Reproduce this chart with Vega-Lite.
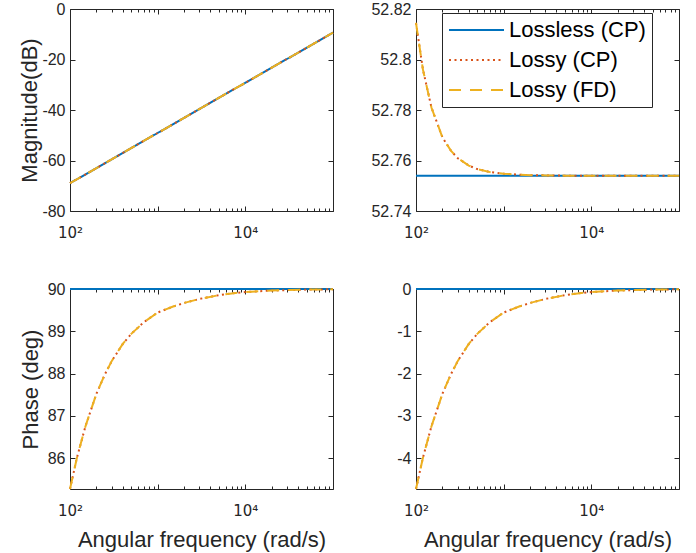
{
  "$schema": "https://vega.github.io/schema/vega-lite/v6.json",
  "background": "white",
  "padding": {"left": 18, "top": 1, "right": 10, "bottom": 2},
  "bounds": "flush",
  "columns": 2,
  "spacing": {"row": 78, "column": 83},
  "datasets": {
    "d": [
      {"p": "A", "s": "Lossless (CP)", "w": 100, "v": -69.0},
      {"p": "A", "s": "Lossless (CP)", "w": 1000, "v": -49.1},
      {"p": "A", "s": "Lossless (CP)", "w": 10000, "v": -29.2},
      {"p": "A", "s": "Lossless (CP)", "w": 100000, "v": -9.4},
      {"p": "A", "s": "Lossy (CP)", "w": 100, "v": -69.0},
      {"p": "A", "s": "Lossy (CP)", "w": 1000, "v": -49.1},
      {"p": "A", "s": "Lossy (CP)", "w": 10000, "v": -29.2},
      {"p": "A", "s": "Lossy (CP)", "w": 100000, "v": -9.4},
      {"p": "A", "s": "Lossy (FD)", "w": 100, "v": -69.0},
      {"p": "A", "s": "Lossy (FD)", "w": 1000, "v": -49.1},
      {"p": "A", "s": "Lossy (FD)", "w": 10000, "v": -29.2},
      {"p": "A", "s": "Lossy (FD)", "w": 100000, "v": -9.4},

      {"p": "B", "s": "Lossless (CP)", "w": 100, "v": 52.754},
      {"p": "B", "s": "Lossless (CP)", "w": 100000, "v": 52.754},
      {"p": "B", "s": "Lossy (CP)", "w": 100, "v": 52.8145},
      {"p": "B", "s": "Lossy (CP)", "w": 120, "v": 52.796},
      {"p": "B", "s": "Lossy (CP)", "w": 150, "v": 52.781},
      {"p": "B", "s": "Lossy (CP)", "w": 200, "v": 52.7692},
      {"p": "B", "s": "Lossy (CP)", "w": 250, "v": 52.7639},
      {"p": "B", "s": "Lossy (CP)", "w": 300, "v": 52.7609},
      {"p": "B", "s": "Lossy (CP)", "w": 400, "v": 52.758},
      {"p": "B", "s": "Lossy (CP)", "w": 500, "v": 52.7566},
      {"p": "B", "s": "Lossy (CP)", "w": 700, "v": 52.7554},
      {"p": "B", "s": "Lossy (CP)", "w": 1000, "v": 52.7548},
      {"p": "B", "s": "Lossy (CP)", "w": 1500, "v": 52.7544},
      {"p": "B", "s": "Lossy (CP)", "w": 2000, "v": 52.7542},
      {"p": "B", "s": "Lossy (CP)", "w": 3000, "v": 52.7541},
      {"p": "B", "s": "Lossy (CP)", "w": 5000, "v": 52.754},
      {"p": "B", "s": "Lossy (CP)", "w": 100000, "v": 52.754},
      {"p": "B", "s": "Lossy (FD)", "w": 100, "v": 52.8145},
      {"p": "B", "s": "Lossy (FD)", "w": 120, "v": 52.796},
      {"p": "B", "s": "Lossy (FD)", "w": 150, "v": 52.781},
      {"p": "B", "s": "Lossy (FD)", "w": 200, "v": 52.7692},
      {"p": "B", "s": "Lossy (FD)", "w": 250, "v": 52.7639},
      {"p": "B", "s": "Lossy (FD)", "w": 300, "v": 52.7609},
      {"p": "B", "s": "Lossy (FD)", "w": 400, "v": 52.758},
      {"p": "B", "s": "Lossy (FD)", "w": 500, "v": 52.7566},
      {"p": "B", "s": "Lossy (FD)", "w": 700, "v": 52.7554},
      {"p": "B", "s": "Lossy (FD)", "w": 1000, "v": 52.7548},
      {"p": "B", "s": "Lossy (FD)", "w": 1500, "v": 52.7544},
      {"p": "B", "s": "Lossy (FD)", "w": 2000, "v": 52.7542},
      {"p": "B", "s": "Lossy (FD)", "w": 3000, "v": 52.7541},
      {"p": "B", "s": "Lossy (FD)", "w": 5000, "v": 52.754},
      {"p": "B", "s": "Lossy (FD)", "w": 100000, "v": 52.754},

      {"p": "C", "s": "Lossless (CP)", "w": 100, "v": 90},
      {"p": "C", "s": "Lossless (CP)", "w": 100000, "v": 90},
      {"p": "C", "s": "Lossy (CP)", "w": 100, "v": 85.27},
      {"p": "C", "s": "Lossy (CP)", "w": 120, "v": 86.01},
      {"p": "C", "s": "Lossy (CP)", "w": 150, "v": 86.75},
      {"p": "C", "s": "Lossy (CP)", "w": 200, "v": 87.52},
      {"p": "C", "s": "Lossy (CP)", "w": 250, "v": 87.98},
      {"p": "C", "s": "Lossy (CP)", "w": 300, "v": 88.3},
      {"p": "C", "s": "Lossy (CP)", "w": 400, "v": 88.7},
      {"p": "C", "s": "Lossy (CP)", "w": 500, "v": 88.94},
      {"p": "C", "s": "Lossy (CP)", "w": 700, "v": 89.22},
      {"p": "C", "s": "Lossy (CP)", "w": 1000, "v": 89.444},
      {"p": "C", "s": "Lossy (CP)", "w": 1500, "v": 89.585},
      {"p": "C", "s": "Lossy (CP)", "w": 2000, "v": 89.67},
      {"p": "C", "s": "Lossy (CP)", "w": 3000, "v": 89.765},
      {"p": "C", "s": "Lossy (CP)", "w": 5000, "v": 89.855},
      {"p": "C", "s": "Lossy (CP)", "w": 7000, "v": 89.895},
      {"p": "C", "s": "Lossy (CP)", "w": 10000, "v": 89.928},
      {"p": "C", "s": "Lossy (CP)", "w": 20000, "v": 89.964},
      {"p": "C", "s": "Lossy (CP)", "w": 50000, "v": 89.986},
      {"p": "C", "s": "Lossy (CP)", "w": 100000, "v": 89.993},
      {"p": "C", "s": "Lossy (FD)", "w": 100, "v": 85.27},
      {"p": "C", "s": "Lossy (FD)", "w": 120, "v": 86.01},
      {"p": "C", "s": "Lossy (FD)", "w": 150, "v": 86.75},
      {"p": "C", "s": "Lossy (FD)", "w": 200, "v": 87.52},
      {"p": "C", "s": "Lossy (FD)", "w": 250, "v": 87.98},
      {"p": "C", "s": "Lossy (FD)", "w": 300, "v": 88.3},
      {"p": "C", "s": "Lossy (FD)", "w": 400, "v": 88.7},
      {"p": "C", "s": "Lossy (FD)", "w": 500, "v": 88.94},
      {"p": "C", "s": "Lossy (FD)", "w": 700, "v": 89.22},
      {"p": "C", "s": "Lossy (FD)", "w": 1000, "v": 89.444},
      {"p": "C", "s": "Lossy (FD)", "w": 1500, "v": 89.585},
      {"p": "C", "s": "Lossy (FD)", "w": 2000, "v": 89.67},
      {"p": "C", "s": "Lossy (FD)", "w": 3000, "v": 89.765},
      {"p": "C", "s": "Lossy (FD)", "w": 5000, "v": 89.855},
      {"p": "C", "s": "Lossy (FD)", "w": 7000, "v": 89.895},
      {"p": "C", "s": "Lossy (FD)", "w": 10000, "v": 89.928},
      {"p": "C", "s": "Lossy (FD)", "w": 20000, "v": 89.964},
      {"p": "C", "s": "Lossy (FD)", "w": 50000, "v": 89.986},
      {"p": "C", "s": "Lossy (FD)", "w": 100000, "v": 89.993},

      {"p": "D", "s": "Lossless (CP)", "w": 100, "v": 0},
      {"p": "D", "s": "Lossless (CP)", "w": 100000, "v": 0},
      {"p": "D", "s": "Lossy (CP)", "w": 100, "v": -4.73},
      {"p": "D", "s": "Lossy (CP)", "w": 120, "v": -3.99},
      {"p": "D", "s": "Lossy (CP)", "w": 150, "v": -3.25},
      {"p": "D", "s": "Lossy (CP)", "w": 200, "v": -2.48},
      {"p": "D", "s": "Lossy (CP)", "w": 250, "v": -2.02},
      {"p": "D", "s": "Lossy (CP)", "w": 300, "v": -1.7},
      {"p": "D", "s": "Lossy (CP)", "w": 400, "v": -1.3},
      {"p": "D", "s": "Lossy (CP)", "w": 500, "v": -1.06},
      {"p": "D", "s": "Lossy (CP)", "w": 700, "v": -0.78},
      {"p": "D", "s": "Lossy (CP)", "w": 1000, "v": -0.556},
      {"p": "D", "s": "Lossy (CP)", "w": 1500, "v": -0.415},
      {"p": "D", "s": "Lossy (CP)", "w": 2000, "v": -0.33},
      {"p": "D", "s": "Lossy (CP)", "w": 3000, "v": -0.235},
      {"p": "D", "s": "Lossy (CP)", "w": 5000, "v": -0.145},
      {"p": "D", "s": "Lossy (CP)", "w": 7000, "v": -0.105},
      {"p": "D", "s": "Lossy (CP)", "w": 10000, "v": -0.072},
      {"p": "D", "s": "Lossy (CP)", "w": 20000, "v": -0.036},
      {"p": "D", "s": "Lossy (CP)", "w": 50000, "v": -0.014},
      {"p": "D", "s": "Lossy (CP)", "w": 100000, "v": -0.007},
      {"p": "D", "s": "Lossy (FD)", "w": 100, "v": -4.73},
      {"p": "D", "s": "Lossy (FD)", "w": 120, "v": -3.99},
      {"p": "D", "s": "Lossy (FD)", "w": 150, "v": -3.25},
      {"p": "D", "s": "Lossy (FD)", "w": 200, "v": -2.48},
      {"p": "D", "s": "Lossy (FD)", "w": 250, "v": -2.02},
      {"p": "D", "s": "Lossy (FD)", "w": 300, "v": -1.7},
      {"p": "D", "s": "Lossy (FD)", "w": 400, "v": -1.3},
      {"p": "D", "s": "Lossy (FD)", "w": 500, "v": -1.06},
      {"p": "D", "s": "Lossy (FD)", "w": 700, "v": -0.78},
      {"p": "D", "s": "Lossy (FD)", "w": 1000, "v": -0.556},
      {"p": "D", "s": "Lossy (FD)", "w": 1500, "v": -0.415},
      {"p": "D", "s": "Lossy (FD)", "w": 2000, "v": -0.33},
      {"p": "D", "s": "Lossy (FD)", "w": 3000, "v": -0.235},
      {"p": "D", "s": "Lossy (FD)", "w": 5000, "v": -0.145},
      {"p": "D", "s": "Lossy (FD)", "w": 7000, "v": -0.105},
      {"p": "D", "s": "Lossy (FD)", "w": 10000, "v": -0.072},
      {"p": "D", "s": "Lossy (FD)", "w": 20000, "v": -0.036},
      {"p": "D", "s": "Lossy (FD)", "w": 50000, "v": -0.014},
      {"p": "D", "s": "Lossy (FD)", "w": 100000, "v": -0.007}
    ]
  },
  "data": {"name": "d"},
  "resolve": {
    "scale": {"color": "independent", "strokeDash": "independent"},
    "legend": {"color": "independent", "strokeDash": "independent"}
  },
  "concat": [
    {
      "width": 263, "height": 202,
      "transform": [{"filter": "datum.p == 'A'"}],
      "layer": [
        {
          "mark": {"type": "line", "strokeWidth": 2},
          "encoding": {
            "x": {"field": "w", "type": "quantitative", "scale": {"type": "log", "domain": [100, 100000], "nice": false},
              "axis": {"orient": "bottom", "title": null, "values": [100,200,300,400,500,600,700,800,900,1000,2000,3000,4000,5000,6000,7000,8000,9000,10000,20000,30000,40000,50000,60000,70000,80000,90000,100000],
                "labelExpr": "datum.value == 100 ? '10²' : datum.value == 10000 ? '10⁴' : ''", "labelFlush": false, "labelOverlap": false,
                "labelFont": "DejaVu Sans", "labelFontSize": 15,
                "tickSize": {"condition": {"test": "datum.value == 100 || datum.value == 1000 || datum.value == 10000 || datum.value == 100000", "value": -5}, "value": -3},
                "labelPadding": 19}},
            "y": {"field": "v", "type": "quantitative", "scale": {"domain": [-80, 0], "nice": false, "zero": false},
              "axis": {"orient": "left", "title": "Magnitude(dB)", "values": [-80, -60, -40, -20, 0], "labelExpr": "'' + datum.value", "tickSize": -5, "labelPadding": 10, "titlePadding": 0}},
            "color": {"field": "s", "type": "nominal", "scale": {"domain": ["Lossless (CP)", "Lossy (CP)", "Lossy (FD)"], "range": ["#0072BD", "#D95319", "#EDB120"]}, "legend": null},
            "strokeDash": {"field": "s", "type": "nominal", "scale": {"domain": ["Lossless (CP)", "Lossy (CP)", "Lossy (FD)"], "range": [[1, 0], [2, 3.5], [12, 9]]}, "legend": null}
          }
        },
        {
          "mark": {"type": "line", "opacity": 0},
          "encoding": {
            "x": {"field": "w", "type": "quantitative", "scale": {"type": "log", "domain": [100, 100000], "nice": false},
              "axis": {"orient": "top", "title": null, "labels": false, "values": [100,200,300,400,500,600,700,800,900,1000,2000,3000,4000,5000,6000,7000,8000,9000,10000,20000,30000,40000,50000,60000,70000,80000,90000,100000],
                "tickSize": {"condition": {"test": "datum.value == 100 || datum.value == 1000 || datum.value == 10000 || datum.value == 100000", "value": -5}, "value": -3}}},
            "y": {"field": "v", "type": "quantitative", "scale": {"domain": [-80, 0], "nice": false, "zero": false},
              "axis": {"orient": "right", "title": null, "labels": false, "values": [-80, -60, -40, -20, 0], "tickSize": -5}}
          }
        }
      ],
      "resolve": {"axis": {"x": "independent", "y": "independent"}}
    },
    {
      "width": 263, "height": 202,
      "transform": [{"filter": "datum.p == 'B'"}],
      "layer": [
        {
          "mark": {"type": "line", "strokeWidth": 2},
          "encoding": {
            "x": {"field": "w", "type": "quantitative", "scale": {"type": "log", "domain": [100, 100000], "nice": false},
              "axis": {"orient": "bottom", "title": null, "values": [100,200,300,400,500,600,700,800,900,1000,2000,3000,4000,5000,6000,7000,8000,9000,10000,20000,30000,40000,50000,60000,70000,80000,90000,100000],
                "labelExpr": "datum.value == 100 ? '10²' : datum.value == 10000 ? '10⁴' : ''", "labelFlush": false, "labelOverlap": false,
                "labelFont": "DejaVu Sans", "labelFontSize": 15,
                "tickSize": {"condition": {"test": "datum.value == 100 || datum.value == 1000 || datum.value == 10000 || datum.value == 100000", "value": -5}, "value": -3},
                "labelPadding": 19}},
            "y": {"field": "v", "type": "quantitative", "scale": {"domain": [52.74, 52.82], "nice": false, "zero": false},
              "axis": {"orient": "left", "title": null, "values": [52.74, 52.76, 52.78, 52.8, 52.82], "labelExpr": "'' + datum.value", "tickSize": -5, "labelPadding": 10}},
            "color": {"field": "s", "type": "nominal", "scale": {"domain": ["Lossless (CP)", "Lossy (CP)", "Lossy (FD)"], "range": ["#0072BD", "#D95319", "#EDB120"]},
              "legend": {"orient": "none", "legendX": 26, "legendY": 4, "title": null, "fillColor": "white", "strokeColor": "#262626", "padding": 6, "labelFontSize": 22, "labelColor": "#000000", "labelFont": "Liberation Sans", "symbolType": "stroke", "symbolSize": 3025, "symbolStrokeWidth": 2, "labelOffset": 4, "rowPadding": 8, "clipHeight": 22}},
            "strokeDash": {"field": "s", "type": "nominal", "scale": {"domain": ["Lossless (CP)", "Lossy (CP)", "Lossy (FD)"], "range": [[1, 0], [2, 3.5], [12, 9]]},
              "legend": {"orient": "none", "legendX": 26, "legendY": 4, "title": null, "fillColor": "white", "strokeColor": "#262626", "padding": 6, "labelFontSize": 22, "labelColor": "#000000", "labelFont": "Liberation Sans", "symbolType": "stroke", "symbolSize": 3025, "symbolStrokeWidth": 2, "labelOffset": 4, "rowPadding": 8, "clipHeight": 22}}
          }
        },
        {
          "mark": {"type": "line", "opacity": 0},
          "encoding": {
            "x": {"field": "w", "type": "quantitative", "scale": {"type": "log", "domain": [100, 100000], "nice": false},
              "axis": {"orient": "top", "title": null, "labels": false, "values": [100,200,300,400,500,600,700,800,900,1000,2000,3000,4000,5000,6000,7000,8000,9000,10000,20000,30000,40000,50000,60000,70000,80000,90000,100000],
                "tickSize": {"condition": {"test": "datum.value == 100 || datum.value == 1000 || datum.value == 10000 || datum.value == 100000", "value": -5}, "value": -3}}},
            "y": {"field": "v", "type": "quantitative", "scale": {"domain": [52.74, 52.82], "nice": false, "zero": false},
              "axis": {"orient": "right", "title": null, "labels": false, "values": [52.74, 52.76, 52.78, 52.8, 52.82], "tickSize": -5}}
          }
        }
      ],
      "resolve": {"axis": {"x": "independent", "y": "independent"}}
    },
    {
      "width": 263, "height": 200,
      "transform": [{"filter": "datum.p == 'C'"}],
      "layer": [
        {
          "mark": {"type": "line", "strokeWidth": 2},
          "encoding": {
            "x": {"field": "w", "type": "quantitative", "scale": {"type": "log", "domain": [100, 100000], "nice": false},
              "axis": {"orient": "bottom", "title": "Angular frequency (rad/s)", "titlePadding": 9, "values": [100,200,300,400,500,600,700,800,900,1000,2000,3000,4000,5000,6000,7000,8000,9000,10000,20000,30000,40000,50000,60000,70000,80000,90000,100000],
                "labelExpr": "datum.value == 100 ? '10²' : datum.value == 10000 ? '10⁴' : ''", "labelFlush": false, "labelOverlap": false,
                "labelFont": "DejaVu Sans", "labelFontSize": 15,
                "tickSize": {"condition": {"test": "datum.value == 100 || datum.value == 1000 || datum.value == 10000 || datum.value == 100000", "value": -5}, "value": -3},
                "labelPadding": 19}},
            "y": {"field": "v", "type": "quantitative", "scale": {"domain": [85.27, 90], "nice": false, "zero": false},
              "axis": {"orient": "left", "title": "Phase (deg)", "values": [86, 87, 88, 89, 90], "labelExpr": "'' + datum.value", "tickSize": -5, "labelPadding": 10, "titlePadding": 5}},
            "color": {"field": "s", "type": "nominal", "scale": {"domain": ["Lossless (CP)", "Lossy (CP)", "Lossy (FD)"], "range": ["#0072BD", "#D95319", "#EDB120"]}, "legend": null},
            "strokeDash": {"field": "s", "type": "nominal", "scale": {"domain": ["Lossless (CP)", "Lossy (CP)", "Lossy (FD)"], "range": [[1, 0], [2, 3.5], [12, 9]]}, "legend": null}
          }
        },
        {
          "mark": {"type": "line", "opacity": 0},
          "encoding": {
            "x": {"field": "w", "type": "quantitative", "scale": {"type": "log", "domain": [100, 100000], "nice": false},
              "axis": {"orient": "top", "title": null, "labels": false, "values": [100,200,300,400,500,600,700,800,900,1000,2000,3000,4000,5000,6000,7000,8000,9000,10000,20000,30000,40000,50000,60000,70000,80000,90000,100000],
                "tickSize": {"condition": {"test": "datum.value == 100 || datum.value == 1000 || datum.value == 10000 || datum.value == 100000", "value": -5}, "value": -3}}},
            "y": {"field": "v", "type": "quantitative", "scale": {"domain": [85.27, 90], "nice": false, "zero": false},
              "axis": {"orient": "right", "title": null, "labels": false, "values": [86, 87, 88, 89, 90], "tickSize": -5}}
          }
        }
      ],
      "resolve": {"axis": {"x": "independent", "y": "independent"}}
    },
    {
      "width": 263, "height": 200,
      "transform": [{"filter": "datum.p == 'D'"}],
      "layer": [
        {
          "mark": {"type": "line", "strokeWidth": 2},
          "encoding": {
            "x": {"field": "w", "type": "quantitative", "scale": {"type": "log", "domain": [100, 100000], "nice": false},
              "axis": {"orient": "bottom", "title": "Angular frequency (rad/s)", "titlePadding": 9, "values": [100,200,300,400,500,600,700,800,900,1000,2000,3000,4000,5000,6000,7000,8000,9000,10000,20000,30000,40000,50000,60000,70000,80000,90000,100000],
                "labelExpr": "datum.value == 100 ? '10²' : datum.value == 10000 ? '10⁴' : ''", "labelFlush": false, "labelOverlap": false,
                "labelFont": "DejaVu Sans", "labelFontSize": 15,
                "tickSize": {"condition": {"test": "datum.value == 100 || datum.value == 1000 || datum.value == 10000 || datum.value == 100000", "value": -5}, "value": -3},
                "labelPadding": 19}},
            "y": {"field": "v", "type": "quantitative", "scale": {"domain": [-4.73, 0], "nice": false, "zero": false},
              "axis": {"orient": "left", "title": null, "values": [-4, -3, -2, -1, 0], "labelExpr": "'' + datum.value", "tickSize": -5, "labelPadding": 10}},
            "color": {"field": "s", "type": "nominal", "scale": {"domain": ["Lossless (CP)", "Lossy (CP)", "Lossy (FD)"], "range": ["#0072BD", "#D95319", "#EDB120"]}, "legend": null},
            "strokeDash": {"field": "s", "type": "nominal", "scale": {"domain": ["Lossless (CP)", "Lossy (CP)", "Lossy (FD)"], "range": [[1, 0], [2, 3.5], [12, 9]]}, "legend": null}
          }
        },
        {
          "mark": {"type": "line", "opacity": 0},
          "encoding": {
            "x": {"field": "w", "type": "quantitative", "scale": {"type": "log", "domain": [100, 100000], "nice": false},
              "axis": {"orient": "top", "title": null, "labels": false, "values": [100,200,300,400,500,600,700,800,900,1000,2000,3000,4000,5000,6000,7000,8000,9000,10000,20000,30000,40000,50000,60000,70000,80000,90000,100000],
                "tickSize": {"condition": {"test": "datum.value == 100 || datum.value == 1000 || datum.value == 10000 || datum.value == 100000", "value": -5}, "value": -3}}},
            "y": {"field": "v", "type": "quantitative", "scale": {"domain": [-4.73, 0], "nice": false, "zero": false},
              "axis": {"orient": "right", "title": null, "labels": false, "values": [-4, -3, -2, -1, 0], "tickSize": -5}}
          }
        }
      ],
      "resolve": {"axis": {"x": "independent", "y": "independent"}}
    }
  ],
  "config": {
    "view": {"stroke": null},
    "font": "Liberation Sans",
    "axis": {
      "grid": false,
      "domainColor": "#262626", "domainWidth": 1,
      "tickColor": "#262626", "tickWidth": 1,
      "labelColor": "#262626", "labelFontSize": 16, "labelFont": "Liberation Sans",
      "titleColor": "#262626", "titleFontSize": 22, "titleFontWeight": "normal", "titleFont": "Liberation Sans"
    }
  }
}
